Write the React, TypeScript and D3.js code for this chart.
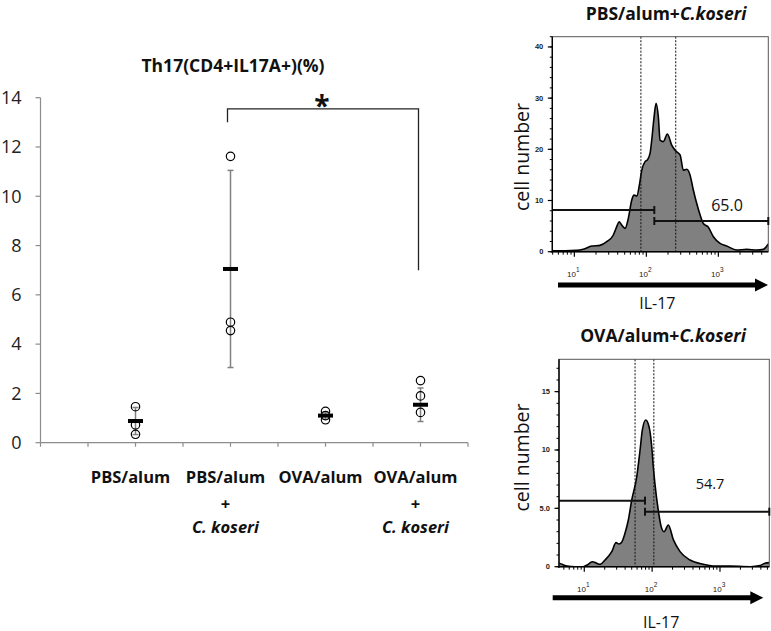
import React from "react";
import * as d3 from "d3";

// ---------- main dot plot data ----------
const categories = ["PBS/alum", "PBS/alum", "OVA/alum", "OVA/alum"];
const withKoseri = [false, true, false, true];
const pointValues = [
  [1.46, 0.72, 0.34],
  [11.62, 4.89, 4.55],
  [1.27, 1.1, 0.93],
  [2.52, 1.9, 1.23],
];
const meanValues = [0.88, 7.05, 1.1, 1.54];
const sdValues = [0.55, 4.0, 0.15, 0.68];
const yTicks = [0, 2, 4, 6, 8, 10, 12, 14];
const sigPair = [1, 3];
const sigLevels = [13.55, 13.0, 7.0]; // bracket top, left drop, right drop

// ---------- flow histograms ----------
const hist1Intensity = [4.94, 7.4, 10.8, 13.3, 17.5, 22.7, 28.2, 34.8, 38.8, 41.8, 45.5, 50.6, 56.2, 62.7, 67.5, 73.6, 80, 86.3, 96, 103, 112.5, 118.8, 128, 136.5, 146.8, 155, 172, 196, 225, 250.6, 294, 327, 364, 404, 450, 501, 557, 619, 727, 853, 1056, 1309, 1803, 2479, 3413, 4219, 4940];
const hist1Count = [0.2, 0.2, 0.25, 0.46, 1.1, 1.24, 1.95, 3.26, 4.9, 5.86, 5.2, 4.56, 6.5, 10.1, 11.06, 10.87, 13, 15.9, 17.6, 17.9, 19.2, 21.8, 26.3, 29, 26.3, 21.8, 21.5, 23, 20.8, 19.8, 18.9, 15.9, 16.1, 15, 12, 9.4, 7.2, 5.5, 4.76, 2.93, 1.64, 1.1, 0.33, 0.46, 0.33, 0.46, 1.5];
const hist2Intensity = [4.24, 4.7, 5.6, 7.3, 9.6, 11, 13.1, 15.2, 17.1, 20.2, 25.4, 29.4, 32.5, 35.6, 39.8, 44.6, 50, 59.3, 66.4, 71.7, 80.5, 90, 98.6, 104, 110, 123, 135, 150, 173, 206, 258, 362, 569, 791, 1409, 2780, 3900, 4600, 5330];
const hist2Count = [0.3, 0.2, 0.05, 0, 0, 0.14, 0.43, 0.3, 0.2, 0.57, 1.29, 2.06, 1.95, 2.1, 2.86, 4.0, 5.7, 7.7, 10, 11.7, 12.57, 12, 10.3, 8.57, 7.1, 4.86, 3.5, 3.0, 3.57, 2.3, 1.29, 0.57, 0.2, 0.06, 0.05, 0, 0.1, 0.3, 0.35];

const panelTitles = ["PBS/alum+", "OVA/alum+"];
const panelXDomains = [[4.94, 4940], [4.24, 5330]];
const panelYMax = [42, 17.77];
const panelYMajor = [[0, 10, 20, 30, 40], [0, 5, 10, 15]];
const panelYMajorLabels = [["0", "10", "20", "30", "40"], ["0", "5.0", "10", "15"]];
const panelYMinorStep = [2, 1];
const panelDotted = [[84, 256], [56, 106]];
const panelGateSplit = [129, 78.5];
const panelGateLeftY = [8.14, 5.66];
const panelGateRightY = [6.0, 4.71];
const panelPercent = ["65.0", "54.7"];
const panelPercentPos = [[1318, 7.9], [714, 6.66]];

const FONT = "'Open Sans', 'DejaVu Sans', sans-serif";

function FlowPanel({ idx, box, arrow, il17Y, cellX, titleX, titleY }: any) {
  const intensity = idx === 0 ? hist1Intensity : hist2Intensity;
  const counts = idx === 0 ? hist1Count : hist2Count;
  const x = d3.scaleLog().domain(panelXDomains[idx]).range([box.left, box.right]);
  const y = d3.scaleLinear().domain([0, panelYMax[idx]]).range([box.bottom, box.top]);
  const pts: [number, number][] = intensity.map((v, i) => [v, counts[i]]);
  const area = d3
    .area<[number, number]>()
    .x((d) => x(d[0]))
    .y0(y(0))
    .y1((d) => y(d[1]))
    .curve(d3.curveMonotoneX);
  const line = d3
    .line<[number, number]>()
    .x((d) => x(d[0]))
    .y((d) => y(d[1]))
    .curve(d3.curveMonotoneX);

  const [dmin, dmax] = panelXDomains[idx];
  const majorX = [10, 100, 1000];
  const minorX: number[] = [];
  [1, 10, 100, 1000].forEach((dec) => {
    for (let m = 2; m <= 9; m++) {
      const v = dec * m;
      if (v >= dmin && v <= dmax) minorX.push(v);
    }
  });
  const minorY: number[] = [];
  for (let v = 0; v <= panelYMax[idx]; v += panelYMinorStep[idx]) minorY.push(v);

  const capH = 4;
  const gx0 = x(dmin);
  const gxs = x(panelGateSplit[idx]);
  const gx1 = x(dmax);
  const gyl = y(panelGateLeftY[idx]);
  const gyr = y(panelGateRightY[idx]);
  const cx = (box.left + box.right) / 2;

  return (
    <g>
      <text x={titleX} y={titleY} textAnchor="middle" fontFamily={FONT} fontWeight={700} fontSize={17.5} fill="#111">
        {panelTitles[idx]}
        <tspan fontStyle="italic">C.koseri</tspan>
      </text>
      <clipPath id={"clip" + idx}>
        <rect x={box.left} y={box.top} width={box.right - box.left} height={box.bottom - box.top} />
      </clipPath>
      <g clipPath={`url(#clip${idx})`}>
        <path d={area(pts) || ""} fill="#808080" />
        <path d={line(pts) || ""} fill="none" stroke="#000" strokeWidth={1.6} />
      </g>
      {panelDotted[idx].map((v, i) => (
        <line key={i} x1={x(v)} x2={x(v)} y1={box.top} y2={box.bottom} stroke="#111" strokeWidth={1} strokeDasharray="2,1.5" />
      ))}
      <rect x={box.left} y={box.top} width={box.right - box.left} height={box.bottom - box.top} fill="none" stroke="#555" strokeWidth={1} />
      {/* gates */}
      <g stroke="#111" strokeWidth={2}>
        <line x1={gx0} x2={gxs} y1={gyl} y2={gyl} />
        <line x1={gxs} x2={gxs} y1={gyl - capH} y2={gyl + capH} />
        <line x1={gxs} x2={gx1} y1={gyr} y2={gyr} />
        <line x1={gxs} x2={gxs} y1={gyr - capH} y2={gyr + capH} />
        <line x1={gx1} x2={gx1} y1={gyr - capH} y2={gyr + capH} />
      </g>
      <text x={x(panelPercentPos[idx][0])} y={y(panelPercentPos[idx][1])} textAnchor="middle" fontFamily={FONT} fontSize={idx === 0 ? 16 : 14.5} fill="#111">
        {panelPercent[idx]}
      </text>
      {/* axes */}
      <line x1={box.left} x2={box.left} y1={box.top} y2={box.bottom + 1} stroke="#000" strokeWidth={1.4} />
      <line x1={box.left - 1} x2={box.right} y1={box.bottom} y2={box.bottom} stroke="#000" strokeWidth={1.6} />
      {minorY.map((v, i) => (
        <line key={"my" + i} x1={box.left - 2.5} x2={box.left} y1={y(v)} y2={y(v)} stroke="#000" strokeWidth={1} />
      ))}
      {panelYMajor[idx].map((v, i) => (
        <g key={"My" + i}>
          <line x1={box.left - 4.5} x2={box.left} y1={y(v)} y2={y(v)} stroke="#000" strokeWidth={1.2} />
          <text x={box.left - 9} y={y(v) + 2.5} textAnchor="end" fontFamily="'Liberation Sans', Arial, sans-serif" fontSize={7.5} fontWeight={700} fill="#222">
            {panelYMajorLabels[idx][i]}
          </text>
        </g>
      ))}
      {minorX.map((v, i) => (
        <line key={"mx" + i} x1={x(v)} x2={x(v)} y1={box.bottom} y2={box.bottom + 3} stroke="#000" strokeWidth={1} />
      ))}
      {majorX.map((v, i) => (
        <g key={"Mx" + i}>
          <line x1={x(v)} x2={x(v)} y1={box.bottom} y2={box.bottom + 5} stroke="#000" strokeWidth={1.2} />
          <text x={x(v) - 1} y={box.bottom + 25} textAnchor="middle" fontFamily="'Liberation Sans', Arial, sans-serif" fontSize={8} fill="#222">
            10
            <tspan dy={-5} fontSize={6.5}>{i + 1}</tspan>
          </text>
        </g>
      ))}
      {/* arrow */}
      <line x1={arrow.x0} x2={arrow.x1 - 10} y1={arrow.y} y2={arrow.y} stroke="#000" strokeWidth={5} />
      <path d={`M${arrow.x1 - 13},${arrow.y - 6.5} L${arrow.x1},${arrow.y} L${arrow.x1 - 13},${arrow.y + 6.5} Z`} fill="#000" />
      <text x={cx - 3} y={il17Y} textAnchor="middle" fontFamily={FONT} fontSize={16} fill="#111">
        IL-17
      </text>
      <text transform={`translate(${cellX.x},${cellX.cy}) rotate(-90)`} textAnchor="middle" fontFamily={FONT} fontSize={19.5} fill="#111">
        cell number
      </text>
    </g>
  );
}

export default function App() {
  const W = 771;
  const H = 631;
  const y = d3.scaleLinear().domain([0, 14]).range([442.7, 97.7]);
  const x = d3.scaleLinear().domain([0, 4.5]).range([40.5, 468]);
  const xTicks = d3.range(0, 4.51, 0.5);

  return (
    <div style={{ position: "absolute", left: 0, top: 0 }}>
      <svg width={W} height={H} style={{ display: "block", background: "#fff" }}>
        {/* title */}
        <text x={233} y={72} textAnchor="middle" fontFamily={FONT} fontWeight={700} fontSize={17.5} fill="#111">
          Th17(CD4+IL17A+)(%)
        </text>
        {/* y axis */}
        <line x1={x(0)} x2={x(0)} y1={y(14)} y2={y(0)} stroke="#8c8c8c" strokeWidth={1.2} />
        {yTicks.map((t) => (
          <g key={t}>
            <line x1={x(0) - 5} x2={x(0)} y1={y(t)} y2={y(t)} stroke="#8c8c8c" strokeWidth={1.2} />
            <text x={21.5} y={y(t) + 6.3} textAnchor="end" fontFamily={FONT} fontSize={18} fill="#222">
              {t}
            </text>
          </g>
        ))}
        {/* x axis */}
        <line x1={x(0)} x2={x(4.5)} y1={y(0)} y2={y(0)} stroke="#8c8c8c" strokeWidth={1.2} />
        {xTicks.map((t, i) => (
          <line key={i} x1={x(t)} x2={x(t)} y1={y(0)} y2={y(0) + 4} stroke="#8c8c8c" strokeWidth={1.2} />
        ))}
        {/* category labels */}
        {categories.map((c, i) => (
          <g key={i} fontFamily={FONT} fontWeight={700} fontSize={16.5} fill="#111" textAnchor="middle">
            <text x={x(i + 1) - 5} y={483}>{c}</text>
            {withKoseri[i] && (
              <>
                <text x={x(i + 1) - 5} y={510}>+</text>
                <text x={x(i + 1) - 5} y={532.5} fontStyle="italic">C. koseri</text>
              </>
            )}
          </g>
        ))}
        {/* error bars */}
        {meanValues.map((m, i) => (
          <g key={i} stroke="#808080" strokeWidth={1.5}>
            <line x1={x(i + 1)} x2={x(i + 1)} y1={y(m - sdValues[i])} y2={y(m + sdValues[i])} />
            <line x1={x(i + 1) - 3} x2={x(i + 1) + 3} y1={y(m + sdValues[i])} y2={y(m + sdValues[i])} />
            <line x1={x(i + 1) - 3} x2={x(i + 1) + 3} y1={y(m - sdValues[i])} y2={y(m - sdValues[i])} />
          </g>
        ))}
        {/* points */}
        {pointValues.map((arr, i) =>
          arr.map((v, j) => (
            <circle key={i + "-" + j} cx={x(i + 1)} cy={y(v)} r={4.2} fill="none" stroke="#000" strokeWidth={1.2} />
          ))
        )}
        {/* means */}
        {meanValues.map((m, i) => (
          <rect key={i} x={x(i + 1) - 7.5} y={y(m) - 2} width={15} height={4} fill="#000" />
        ))}
        {/* significance bracket */}
        <path
          d={`M${x(sigPair[0] + 1) - 3},${y(sigLevels[1])} V${y(sigLevels[0])} H${x(sigPair[1] + 1) - 2} V${y(sigLevels[2])}`}
          fill="none"
          stroke="#222"
          strokeWidth={1.3}
        />
        <text x={322} y={116} textAnchor="middle" fontFamily={FONT} fontWeight={700} fontSize={28} fill="#111">
          *
        </text>

        <FlowPanel idx={0} box={{ left: 552.3, right: 768.3, top: 36.7, bottom: 251.7 }} arrow={{ x0: 558, x1: 768, y: 285 }} il17Y={309} cellX={{ x: 529, cy: 157 }} titleX={666} titleY={20} />
        <FlowPanel idx={1} box={{ left: 559, right: 769.3, top: 359.3, bottom: 566.7 }} arrow={{ x0: 552.7, x1: 763.3, y: 597.7 }} il17Y={627.5} cellX={{ x: 528.5, cy: 457.5 }} titleX={663} titleY={342} />
      </svg>
    </div>
  );
}
